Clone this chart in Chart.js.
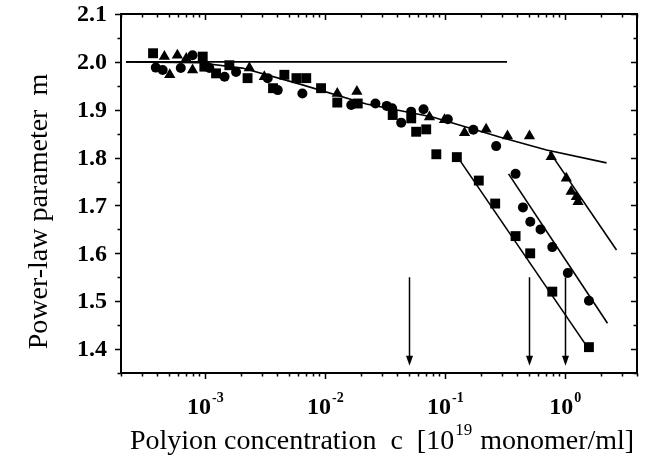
<!DOCTYPE html>
<html>
<head>
<meta charset="utf-8">
<script src="https://cdn.jsdelivr.net/npm/chart.js@4/dist/chart.umd.min.js"></script>
<style>
  html, body { margin: 0; padding: 0; background: #fff; }
  #wrap { width: 649px; height: 461px; }
</style>
</head>
<body>
<div id="wrap"><canvas id="mChart" width="649" height="461"></canvas></div>
<script>
  // measured points: concentration c [1e19 monomer/ml] and exponent m
  const squareC = [3.7e-4, 9.6e-4, 9.9e-4, 1.24e-3, 1.6e-3, 2.27e-3, 3.7e-3, 4.6e-3, 5.8e-3, 7.0e-3, 9.3e-3, 0.0127, 0.0188, 0.0368, 0.0525, 0.0577, 0.070, 0.085, 0.126, 0.192, 0.263, 0.389, 0.515, 0.787, 1.59];
  const squareM = [2.018, 2.011, 1.990, 1.976, 1.993, 1.966, 1.945, 1.973, 1.966, 1.966, 1.945, 1.915, 1.913, 1.889, 1.882, 1.854, 1.859, 1.807, 1.801, 1.752, 1.704, 1.636, 1.600, 1.520, 1.404];

  const circleC = [3.9e-4, 4.45e-4, 6.3e-4, 7.9e-4, 1.09e-3, 1.46e-3, 1.82e-3, 3.34e-3, 4.05e-3, 6.5e-3, 0.0166, 0.0264, 0.0328, 0.0364, 0.0433, 0.0524, 0.0665, 0.106, 0.173, 0.268, 0.389, 0.448, 0.516, 0.628, 0.787, 1.06, 1.59];
  const circleM = [1.988, 1.983, 1.987, 2.014, 1.987, 1.969, 1.979, 1.966, 1.941, 1.934, 1.910, 1.913, 1.908, 1.903, 1.873, 1.896, 1.901, 1.880, 1.858, 1.824, 1.766, 1.696, 1.666, 1.650, 1.613, 1.559, 1.501];

  const triangleC = [4.6e-4, 5.1e-4, 5.9e-4, 7.0e-4, 7.9e-4, 2.35e-3, 3.13e-3, 0.0127, 0.0185, 0.0745, 0.0994, 0.146, 0.221, 0.333, 0.508, 0.771, 1.03, 1.13, 1.25, 1.29];
  const triangleM = [2.011, 1.973, 2.014, 2.007, 1.983, 1.987, 1.969, 1.934, 1.938, 1.885, 1.879, 1.852, 1.859, 1.845, 1.845, 1.802, 1.757, 1.729, 1.718, 1.708];

  // guide lines
  const plateauC = [2.2e-4, 0.33];
  const plateauM = [2.0, 2.0];
  const curveC = [2.2e-4, 9.0e-4, 2.05e-3, 6.1e-3, 0.0222, 0.0789, 0.286, 0.705, 2.23];
  const curveM = [2.0, 1.998, 1.987, 1.954, 1.912, 1.885, 1.843, 1.816, 1.789];
  const fitSquareC = [0.128, 1.46];
  const fitSquareM = [1.801, 1.413];
  const fitCircleC = [0.34, 2.27];
  const fitCircleM = [1.766, 1.454];
  const fitTriangleC = [0.747, 2.70];
  const fitTriangleM = [1.812, 1.607];

  // arrows marking the crossover concentrations
  const arrowC = [0.05, 0.5, 1.0];
  const arrowFrom = 1.55;
  const arrowTo = 1.365;

  // axes
  const yTicks = ['1.4', '1.5', '1.6', '1.7', '1.8', '1.9', '2.0', '2.1'];
  const xTickExps = [-3, -2, -1, 0];
  const xMin = 2e-4, xMax = 4, yMin = 1.35, yMax = 2.1;

  const pts = (xs, ys) => xs.map((x, i) => ({ x: x, y: ys[i] }));
  const serif = '"Liberation Serif", "Times New Roman", serif';

  function lineSet(xs, ys) {
    return {
      data: pts(xs, ys),
      showLine: true,
      pointRadius: 0,
      borderColor: '#000',
      borderWidth: 1.6,
      fill: false
    };
  }

  function markSet(xs, ys, style, r) {
    return {
      data: pts(xs, ys),
      pointStyle: style,
      pointRadius: r,
      pointBackgroundColor: '#000',
      pointBorderColor: '#000',
      pointBorderWidth: 0,
      showLine: false
    };
  }

  // frame, ticks, labels, arrows and titles
  const axesPlugin = {
    id: 'axesPlugin',
    afterDraw(chart) {
      const ctx = chart.ctx;
      const a = chart.chartArea;
      const xs = chart.scales.x, ys = chart.scales.y;
      ctx.save();
      ctx.strokeStyle = '#000';
      ctx.fillStyle = '#000';
      ctx.lineWidth = 2;
      ctx.strokeRect(a.left, a.top, a.right - a.left, a.bottom - a.top);

      ctx.lineWidth = 1.5;
      ctx.beginPath();
      // y ticks every 0.05, long ones at every 0.1
      for (let k = 0; k <= 15; k++) {
        const v = yMin + k * 0.05;
        const py = Math.round(ys.getPixelForValue(v)) + 0.5;
        const len = (k % 2 === 1) ? 6 : 3.5;
        ctx.moveTo(a.left, py); ctx.lineTo(a.left - len, py);
        ctx.moveTo(a.right, py); ctx.lineTo(a.right - len, py);
      }
      // x ticks on the log axis
      for (let e = -4; e <= 0; e++) {
        for (let m = 1; m <= 9; m++) {
          const v = m * Math.pow(10, e);
          if (v < xMin * 0.999 || v > xMax * 1.001) continue;
          const px = Math.round(xs.getPixelForValue(v)) + 0.5;
          const len = m === 1 ? 6 : 3.5;
          ctx.moveTo(px, a.bottom); ctx.lineTo(px, a.bottom + len);
          ctx.moveTo(px, a.top); ctx.lineTo(px, a.top + len);
        }
      }
      ctx.stroke();

      // y tick labels
      ctx.font = 'bold 24px ' + serif;
      ctx.textAlign = 'right';
      ctx.textBaseline = 'middle';
      yTicks.forEach(t => {
        ctx.fillText(t, a.left - 14, ys.getPixelForValue(parseFloat(t)) + 1);
      });

      // x tick labels: 10 with a raised exponent
      ctx.textBaseline = 'alphabetic';
      ctx.textAlign = 'left';
      xTickExps.forEach(e => {
        const px = xs.getPixelForValue(Math.pow(10, e));
        ctx.font = 'bold 24px ' + serif;
        const wBase = ctx.measureText('10').width;
        ctx.font = 'bold 14px ' + serif;
        const sup = e < 0 ? '-' + (-e) : String(e);
        const wSup = ctx.measureText(sup).width;
        const x0 = px - (wBase + wSup) / 2;
        ctx.font = 'bold 24px ' + serif;
        ctx.fillText('10', x0, a.bottom + 41);
        ctx.font = 'bold 14px ' + serif;
        ctx.fillText(sup, x0 + wBase + 1, a.bottom + 29);
      });

      // arrows
      ctx.lineWidth = 1.5;
      arrowC.forEach(c => {
        const px = Math.round(xs.getPixelForValue(c)) + 0.5;
        const y0 = ys.getPixelForValue(arrowFrom);
        const y1 = ys.getPixelForValue(arrowTo);
        ctx.beginPath();
        ctx.moveTo(px, y0); ctx.lineTo(px, y1 - 8);
        ctx.stroke();
        ctx.beginPath();
        ctx.moveTo(px - 3.5, y1 - 10);
        ctx.lineTo(px + 3.5, y1 - 10);
        ctx.lineTo(px, y1);
        ctx.closePath();
        ctx.fill();
      });

      // x axis title
      ctx.font = '28px ' + serif;
      const t1 = 'Polyion concentration  c  [10';
      const t2 = '19';
      const t3 = ' monomer/ml]';
      const w1 = ctx.measureText(t1).width;
      const w3 = ctx.measureText(t3).width;
      ctx.font = '17px ' + serif;
      const w2 = ctx.measureText(t2).width;
      let tx = (a.left + a.right) / 2 + 2 - (w1 + w2 + w3) / 2;
      const tyBase = a.bottom + 76;
      ctx.font = '28px ' + serif;
      ctx.fillText(t1, tx, tyBase);
      ctx.font = '17px ' + serif;
      ctx.fillText(t2, tx + w1 + 1, tyBase - 14);
      ctx.font = '28px ' + serif;
      ctx.fillText(t3, tx + w1 + w2 + 2, tyBase);

      // y axis title
      ctx.translate(40, (a.top + a.bottom) / 2 + 18);
      ctx.rotate(-Math.PI / 2);
      ctx.textAlign = 'center';
      ctx.textBaseline = 'middle';
      ctx.font = '28px ' + serif;
      ctx.fillText('Power-law parameter  m', 0, 0);
      ctx.restore();
    }
  };

  const mChart = new Chart(document.getElementById('mChart').getContext('2d'), {
    type: 'scatter',
    data: {
      datasets: [
        lineSet(plateauC, plateauM),
        lineSet(curveC, curveM),
        lineSet(fitSquareC, fitSquareM),
        lineSet(fitCircleC, fitCircleM),
        lineSet(fitTriangleC, fitTriangleM),
        markSet(squareC, squareM, 'rect', 7),
        markSet(circleC, circleM, 'circle', 5),
        markSet(triangleC, triangleM, 'triangle', 6.5)
      ]
    },
    options: {
      responsive: false,
      animation: false,
      layout: { padding: { left: 121, right: 12, top: 14, bottom: 88 } },
      plugins: { legend: { display: false }, tooltip: { enabled: false } },
      scales: {
        x: { type: 'logarithmic', min: xMin, max: xMax, display: false },
        y: { type: 'linear', min: yMin, max: yMax, display: false }
      }
    },
    plugins: [axesPlugin]
  });
</script>
</body>
</html>
